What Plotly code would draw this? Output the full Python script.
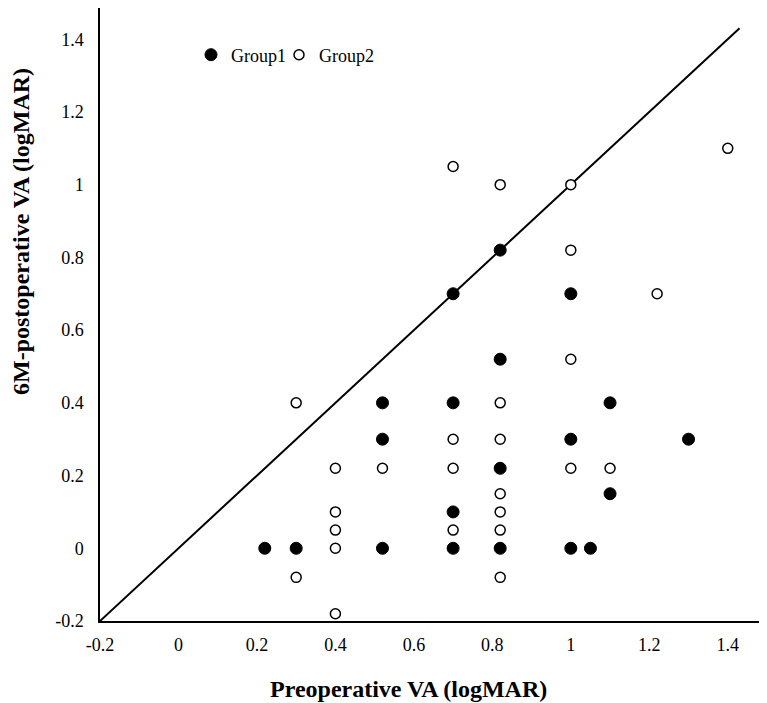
import plotly.graph_objects as go

# Group 1 (filled)
g1_pre = [0.22, 0.30, 0.52, 0.52, 0.52, 0.70, 0.70, 0.70, 0.70, 0.82, 0.82, 0.82, 0.82,
          1.00, 1.00, 1.00, 1.05, 1.10, 1.10, 1.30]
g1_post = [0.00, 0.00, 0.00, 0.30, 0.40, 0.00, 0.10, 0.40, 0.70, 0.00, 0.22, 0.52, 0.82,
           0.00, 0.30, 0.70, 0.00, 0.15, 0.40, 0.30]

# Group 2 (open)
g2_pre = [0.30, 0.30, 0.40, 0.40, 0.40, 0.40, 0.40, 0.52, 0.70, 0.70, 0.70, 0.70,
          0.82, 0.82, 0.82, 0.82, 0.82, 0.82, 0.82, 1.00, 1.00, 1.00, 1.00, 1.10, 1.22, 1.40]
g2_post = [0.40, -0.08, 0.22, 0.10, 0.05, 0.00, -0.18, 0.22, 1.05, 0.30, 0.22, 0.05,
           1.00, 0.40, 0.30, 0.15, 0.10, 0.05, -0.08, 1.00, 0.82, 0.52, 0.22, 0.22, 0.70, 1.10]

# Reference line y = x
diag = [-0.2, 1.43]

x_ticks = [-0.2, 0, 0.2, 0.4, 0.6, 0.8, 1, 1.2, 1.4]
x_tick_labels = ["-0.2", "0", "0.2", "0.4", "0.6", "0.8", "1", "1.2", "1.4"]
y_ticks = [-0.2, 0, 0.2, 0.4, 0.6, 0.8, 1, 1.2, 1.4]
y_tick_labels = ["-0.2", "0", "0.2", "0.4", "0.6", "0.8", "1", "1.2", "1.4"]

FONT = "Liberation Serif"

# page body has an 8px margin: figure is placed at (8, 8)
W, H = 759, 695
ML, MB = 92, 82
PW, PH = W - ML, H - MB

fig = go.Figure()
fig.add_trace(go.Scatter(x=diag, y=diag, mode="lines", line=dict(color="black", width=2),
                         showlegend=False, hoverinfo="skip"))
fig.add_trace(go.Scatter(x=g1_pre, y=g1_post, mode="markers", name="Group1", legend="legend",
                         marker=dict(symbol="circle", size=12, color="black",
                                     line=dict(color="black", width=1))))
fig.add_trace(go.Scatter(x=g2_pre, y=g2_post, mode="markers", name="Group2", legend="legend2",
                         marker=dict(symbol="circle", size=10, color="white",
                                     line=dict(color="black", width=1.5))))

leg_common = dict(orientation="h", xanchor="left", yanchor="middle",
                  font=dict(family=FONT, size=18, color="black"),
                  bgcolor="rgba(0,0,0,0)", itemwidth=30)

fig.update_layout(
    width=W, height=H,
    margin=dict(l=ML, r=0, t=0, b=MB),
    paper_bgcolor="white", plot_bgcolor="white",
    font=dict(family=FONT, size=18, color="black"),
    showlegend=True,
    legend=dict(x=(183 - ML) / PW, y=1 - 47 / PH, **leg_common),
    legend2=dict(x=(271 - ML) / PW, y=1 - 47 / PH, **leg_common),
    xaxis=dict(range=[-0.2, 1.5], tickvals=x_ticks, ticktext=x_tick_labels,
               showgrid=False, zeroline=False, showline=True, linecolor="black",
               linewidth=1.5, ticks="", ticklabelstandoff=7,
               tickfont=dict(family=FONT, size=18, color="black")),
    yaxis=dict(range=[-0.2, -0.2 + PH / 363.6], tickvals=y_ticks, ticktext=y_tick_labels,
               showgrid=False, zeroline=False, showline=True, linecolor="black",
               linewidth=1.5, ticks="", ticklabelstandoff=11,
               tickfont=dict(family=FONT, size=18, color="black")),
    annotations=[
        dict(text="<b>Preoperative VA (logMAR)</b>", xref="paper", yref="paper",
             x=(400 - ML) / PW, y=-(681 - PH) / PH, xanchor="center", yanchor="middle",
             showarrow=False, font=dict(family=FONT, size=24, color="black")),
        dict(text="<b>6M-postoperative VA (logMAR)</b>", xref="paper", yref="paper",
             x=-(ML - 13) / PW, y=1 - 224 / PH, xanchor="center", yanchor="middle",
             textangle=-90, showarrow=False, font=dict(family=FONT, size=24, color="black")),
    ],
)

fig.write_html("out.html")
